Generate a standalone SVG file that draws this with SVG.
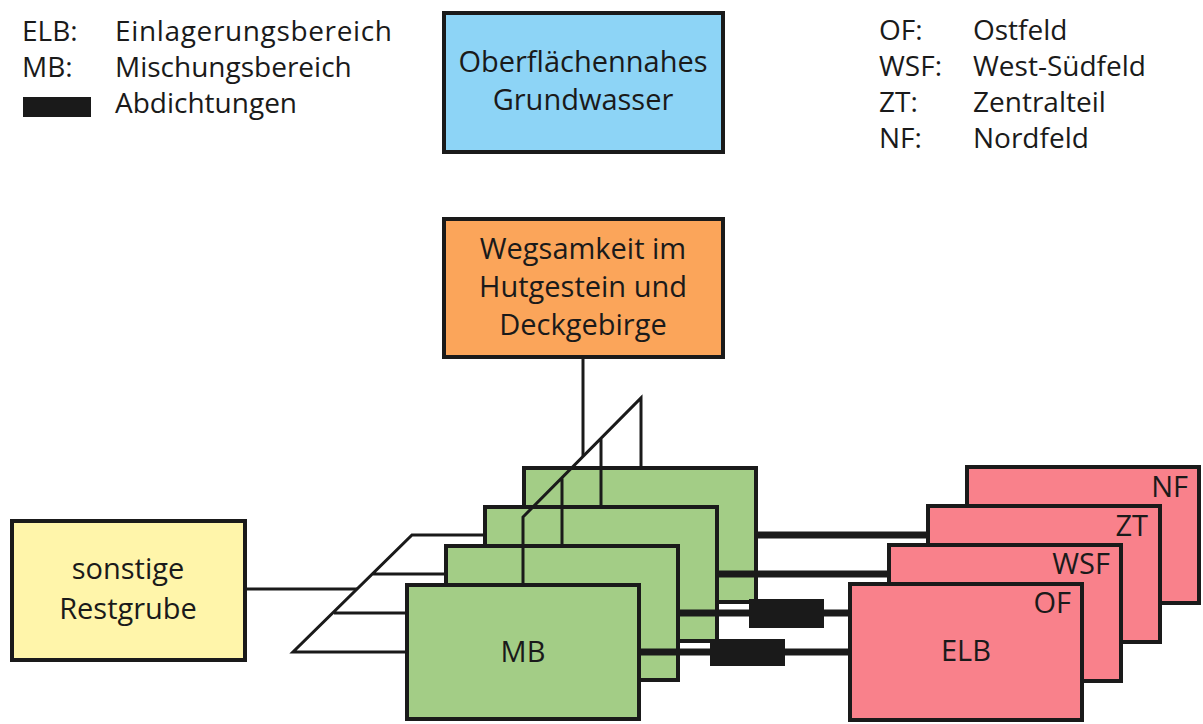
<svg xmlns="http://www.w3.org/2000/svg" width="1203" height="724" viewBox="0 0 1203 724">
<style>
text{font-family:"Open Sans","Noto Sans","Liberation Sans",sans-serif;font-size:29px;fill:#1a1a1a}
.lg{font-size:28px}
.c{text-anchor:middle}
.r{text-anchor:end}
.box{stroke:#1a1a1a;stroke-width:4}
.green{fill:#a3cd86}
.pink{fill:#f9818b}
.thin{stroke:#1a1a1a;stroke-width:3;fill:none}
.thick{stroke:#1a1a1a;stroke-width:7;fill:none}
.seal{fill:#1a1a1a}
</style>
<rect width="1203" height="724" fill="#ffffff"/>

<g id="legend">
<text class="lg" x="22" y="41">ELB:</text><text class="lg" x="115" y="41" textLength="277">Einlagerungsbereich</text>
<text class="lg" x="22" y="77">MB:</text><text class="lg" x="115" y="77">Mischungsbereich</text>
<rect class="seal" x="23" y="97" width="68" height="20"/><text class="lg" x="115" y="113">Abdichtungen</text>
<text class="lg" x="879" y="40">OF:</text><text class="lg" x="973" y="40">Ostfeld</text>
<text class="lg" x="879" y="76">WSF:</text><text class="lg" x="973" y="76">West-Südfeld</text>
<text class="lg" x="879" y="112">ZT:</text><text class="lg" x="973" y="112">Zentralteil</text>
<text class="lg" x="879" y="148">NF:</text><text class="lg" x="973" y="148">Nordfeld</text>
</g>

<g id="connectors-back">
<path class="thin" d="M247 589H357"/>
<path class="thin" d="M524 535H412L293 652H407M373 574H485M334 613H446"/>
</g>

<g id="grundwasser"><rect class="box" x="444" y="13" width="279" height="139" fill="#8dd4f6"/>
<text class="c" x="583" y="72">Oberflächennahes</text><text class="c" x="583" y="110">Grundwasser</text></g>

<g id="hutgestein"><rect class="box" x="444" y="219" width="279" height="138" fill="#fba55a"/>
<text class="c" x="583" y="259">Wegsamkeit im</text><text class="c" x="583" y="297">Hutgestein und</text><text class="c" x="583" y="335">Deckgebirge</text></g>

<g id="restgrube"><rect class="box" x="12" y="521" width="233" height="139" fill="#fff5aa"/>
<text class="c" x="128" y="579">sonstige</text><text class="c" x="128" y="619">Restgrube</text></g>

<g id="mb-nf"><rect class="box green" x="524" y="468" width="232" height="134"/></g>
<g id="mb-zt"><rect class="box green" x="485" y="507" width="232" height="134"/></g>
<g id="mb-wsf"><rect class="box green" x="446" y="546" width="232" height="134"/></g>
<g id="mb-of"><rect class="box green" x="407" y="585" width="232" height="134"/>
<text class="c" x="523" y="662">MB</text></g>

<g id="connectors">
<path class="thin" d="M583 357V456"/>
<path class="thin" d="M641 466V398L523 517V585M601 438V507M562 477V546"/>
<path class="thick" d="M756 535H967M717 574H928M678 613H889M639 652H850"/>
<rect class="seal" x="749" y="599" width="75" height="29"/>
<rect class="seal" x="710" y="639" width="75" height="27"/>
</g>

<g id="elb-nf"><rect class="box pink" x="967" y="467" width="232" height="136"/><text class="r" x="1188" y="497">NF</text></g>
<g id="elb-zt"><rect class="box pink" x="928" y="506" width="232" height="136"/><text class="r" x="1148" y="536">ZT</text></g>
<g id="elb-wsf"><rect class="box pink" x="889" y="545" width="232" height="136"/><text class="r" x="1110" y="574">WSF</text></g>
<g id="elb-of"><rect class="box pink" x="850" y="584" width="232" height="136"/><text class="r" x="1071" y="613">OF</text>
<text class="c" x="966" y="661">ELB</text></g>
</svg>
